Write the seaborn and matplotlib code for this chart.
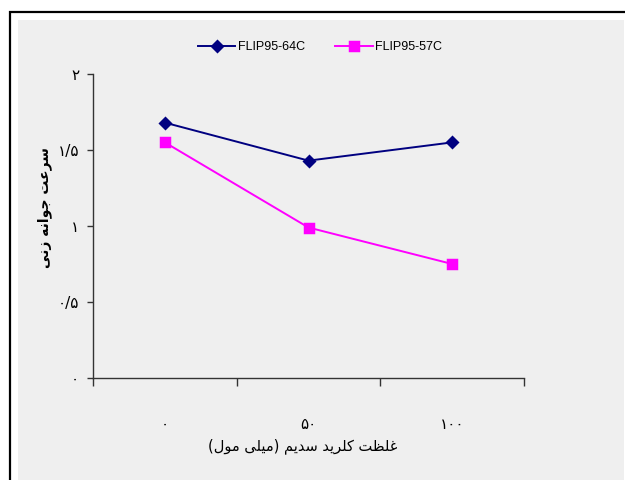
import matplotlib
matplotlib.use("Agg")
import matplotlib.pyplot as plt
from matplotlib.patches import Rectangle
from matplotlib.ticker import FixedLocator, NullFormatter, FixedFormatter
import seaborn as sns
import pandas as pd

# ---------------- data ----------------
categories = ['۰', '۵۰', '۱۰۰']          # NaCl concentration (mM)
series_names = ['FLIP95-64C', 'FLIP95-57C']
flip64 = [1.68, 1.43, 1.55]
flip57 = [1.55, 0.99, 0.75]
y_ticks = [0, 0.5, 1, 1.5, 2]
y_tick_labels = ['۰', '۰/۵', '۱', '۱/۵', '۲']
x_title = 'غلظت کلرید سدیم (میلی مول)'
y_title = 'سرعت جوانه زنی'

# ------------- simple Persian shaper -------------
FORMS = {
    'ا': ('\uFE8D', '\uFE8E', None, None),
    'ت': ('\uFE95', '\uFE96', '\uFE97', '\uFE98'),
    'ج': ('\uFE9D', '\uFE9E', '\uFE9F', '\uFEA0'),
    'د': ('\uFEA9', '\uFEAA', None, None),
    'ر': ('\uFEAD', '\uFEAE', None, None),
    'ز': ('\uFEAF', '\uFEB0', None, None),
    'س': ('\uFEB1', '\uFEB2', '\uFEB3', '\uFEB4'),
    'ظ': ('\uFEC5', '\uFEC6', '\uFEC7', '\uFEC8'),
    'ع': ('\uFEC9', '\uFECA', '\uFECB', '\uFECC'),
    'غ': ('\uFECD', '\uFECE', '\uFECF', '\uFED0'),
    'ل': ('\uFEDD', '\uFEDE', '\uFEDF', '\uFEE0'),
    'م': ('\uFEE1', '\uFEE2', '\uFEE3', '\uFEE4'),
    'ن': ('\uFEE5', '\uFEE6', '\uFEE7', '\uFEE8'),
    'ه': ('\uFEE9', '\uFEEA', '\uFEEB', '\uFEEC'),
    'و': ('\uFEED', '\uFEEE', None, None),
    'ک': ('\uFB8E', '\uFB8F', '\uFB90', '\uFB91'),
    'ی': ('\uFBFC', '\uFBFD', '\uFBFE', '\uFBFF'),
}


def shape(text):
    out = []
    n = len(text)
    for i, ch in enumerate(text):
        if ch not in FORMS:
            out.append(ch)
            continue
        prev = text[i - 1] if i > 0 else ''
        nxt = text[i + 1] if i < n - 1 else ''
        cp = prev in FORMS and FORMS[prev][2] is not None
        cn = nxt in FORMS and FORMS[ch][2] is not None
        f = FORMS[ch]
        if cp and cn:
            out.append(f[3])
        elif cp:
            out.append(f[1])
        elif cn:
            out.append(f[2])
        else:
            out.append(f[0])
    vis = ''.join(out)[::-1]
    vis = vis.translate(str.maketrans({'(': ')', ')': '('}))
    return vis


# ---------------- figure ----------------
W, H = 625, 480
fig = plt.figure(figsize=(W / 100, H / 100), dpi=100, facecolor='white')
fig.patches.append(Rectangle((10 / W, -0.1), 1.2, (H - 11.5) / H + 0.1,
                             transform=fig.transFigure, facecolor='white',
                             edgecolor='black', linewidth=1.6, zorder=-2))
fig.patches.append(Rectangle((18 / W, -0.1), (624 - 18) / W, (H - 20) / H + 0.1,
                             transform=fig.transFigure, facecolor='#efefef',
                             edgecolor='none', zorder=-1))

ax = fig.add_axes([93 / W, 1 - 378 / H, 431 / W, 304 / H])
ax.set_facecolor('none')

df = pd.DataFrame({
    'salt': categories * 2,
    'rate': flip64 + flip57,
    'cultivar': [series_names[0]] * 3 + [series_names[1]] * 3,
})

sns.pointplot(data=df, x='salt', y='rate', hue='cultivar', order=categories,
              hue_order=series_names, palette=['#000080', '#FF00FF'],
              markers=['D', 's'], linestyles=['-', '-'], errorbar=None,
              ax=ax, markersize=6.5, linewidth=1.4)

ax.set_ylim(0, 2)
ax.set_xlim(-0.5, 2.5)
for s in ['top', 'right']:
    ax.spines[s].set_visible(False)
for s in ['left', 'bottom']:
    ax.spines[s].set_color('#333333')
    ax.spines[s].set_linewidth(1.0)

ax.yaxis.set_major_locator(FixedLocator(y_ticks))
ax.yaxis.set_major_formatter(FixedFormatter(y_tick_labels))
ax.tick_params(axis='y', direction='out', length=4, width=1, color='#333333',
               pad=6, labelsize=11, labelfontfamily='DejaVu Sans')

ax.xaxis.set_major_locator(FixedLocator([-0.5, 0.5, 1.5, 2.5]))
ax.xaxis.set_major_formatter(NullFormatter())
ax.xaxis.set_minor_locator(FixedLocator([0, 1, 2]))
ax.xaxis.set_minor_formatter(FixedFormatter(categories))
ax.tick_params(axis='x', which='major', direction='out', length=6, width=1,
               color='#333333')
ax.tick_params(axis='x', which='minor', length=0, pad=28, labelsize=11,
               labelfontfamily='DejaVu Sans')

ax.set_xlabel(shape(x_title), fontsize=10.5, family='DejaVu Sans', va='center')
ax.xaxis.set_label_coords((303 - 93) / 431, (378 - 446) / 304)
ax.set_ylabel(shape(y_title), fontsize=10, family='DejaVu Sans',
              fontweight='bold', va='center')
ax.yaxis.set_label_coords((45 - 93) / 431, (378 - 208) / 304)

handles, labels = ax.get_legend_handles_labels()
ax.legend(handles, labels, loc='center', bbox_to_anchor=(320 / W, 1 - 47 / H),
          bbox_transform=fig.transFigure, ncol=2, frameon=False,
          prop={'family': 'Liberation Sans', 'size': 9}, handlelength=3.0,
          handletextpad=0.2, columnspacing=2.4)

fig.savefig('out.png', dpi=100, facecolor='white')
